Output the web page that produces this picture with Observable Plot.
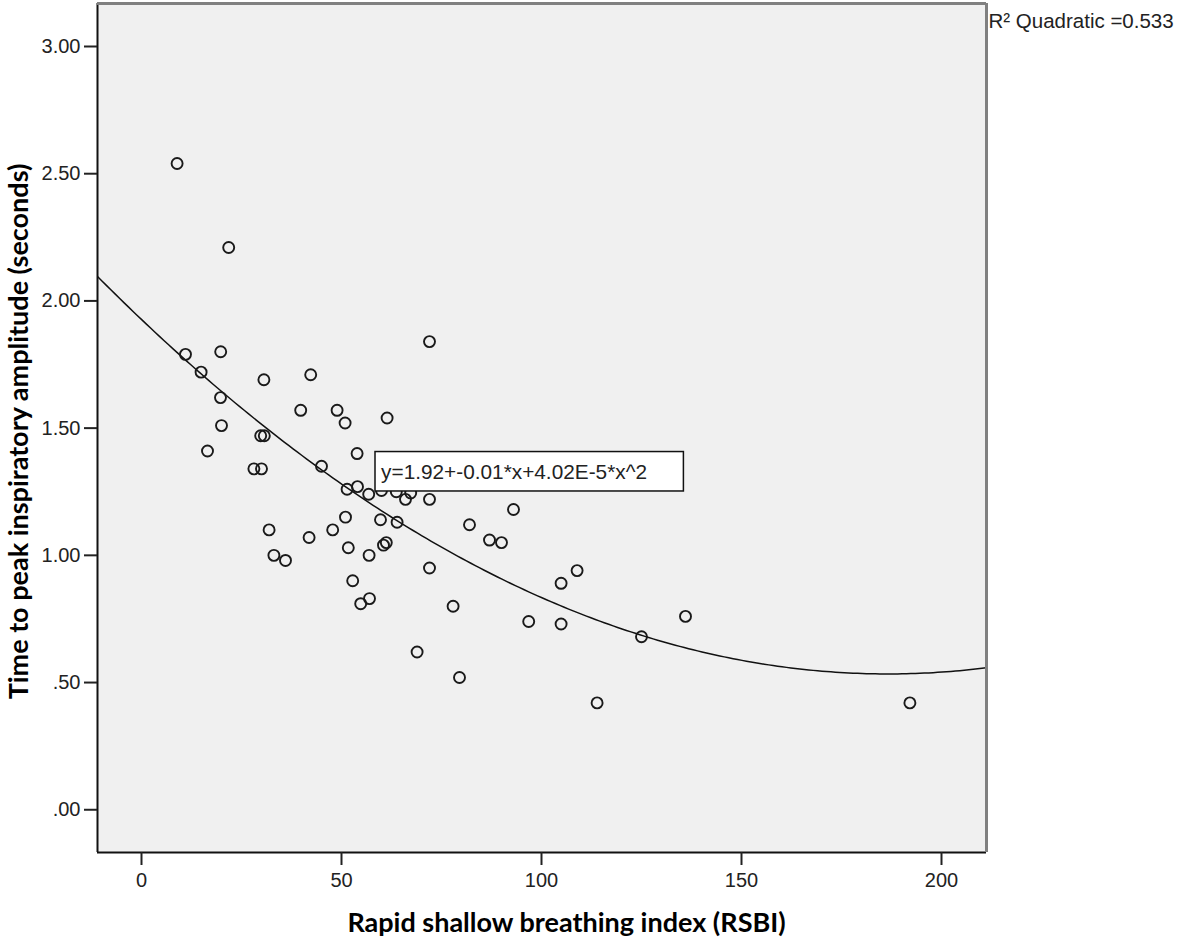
<!DOCTYPE html>
<html><head><meta charset="utf-8">
<script src="https://cdn.jsdelivr.net/npm/d3@7"></script>
<script src="https://cdn.jsdelivr.net/npm/@observablehq/plot@0.6"></script>
<style>body{margin:0;background:#fff}</style>
</head><body><div id="chart"></div>
<script>
// Rapid shallow breathing index (x) and time to peak inspiratory amplitude (y)
const rsbi = [8.9, 21.8, 72, 11, 19.8, 14.9, 30.6, 42.3, 19.75, 39.8,
  48.9, 50.9, 61.4, 20, 29.8, 30.7, 16.5, 53.9, 28.1, 30,
  45, 51.4, 54, 56.8, 60, 63.7, 66, 67.3, 72, 93,
  51, 59.75, 63.9, 82, 87, 90, 31.9, 41.9, 47.8, 51.7,
  60.5, 61.2, 56.9, 33.1, 36, 72, 52.8, 57, 54.8, 77.9,
  96.8, 104.9, 104.9, 108.9, 125, 136, 68.9, 79.5, 113.9, 192.1];
const tpia = [2.54, 2.21, 1.84, 1.79, 1.80, 1.72, 1.69, 1.71, 1.62, 1.57,
  1.57, 1.52, 1.54, 1.51, 1.47, 1.47, 1.41, 1.40, 1.34, 1.34,
  1.35, 1.26, 1.27, 1.24, 1.255, 1.25, 1.22, 1.245, 1.22, 1.18,
  1.15, 1.14, 1.13, 1.12, 1.06, 1.05, 1.10, 1.07, 1.10, 1.03,
  1.04, 1.05, 1.00, 1.00, 0.98, 0.95, 0.90, 0.83, 0.81, 0.80,
  0.74, 0.73, 0.89, 0.94, 0.68, 0.76, 0.62, 0.52, 0.42, 0.42];

const xTicks = [0, 50, 100, 150, 200];
const yTicks = [0, 0.5, 1, 1.5, 2, 2.5, 3];
const xDomain = [-11, 211.25];
const yDomain = [-0.168, 3.169];
// quadratic fit coefficients (a + b*x + c*x^2)
const fitCoef = [1.927, -0.01493, 4.0e-5];
const equationText = "y=1.92+-0.01*x+4.02E-5*x^2";
const r2Text = "R\u00B2 Quadratic =0.533";
const xLabel = "Rapid shallow breathing index (RSBI)";
const yLabel = "Time to peak inspiratory amplitude (seconds)";
const eqBox = {x1: 58.5, x2: 135.6, y1: 1.251, y2: 1.406};
const eqPos = {x: 59.9, y: 1.327};

const points = rsbi.map((x, i) => ({x, y: tpia[i]}));
const curve = d3.range(0, 201).map(i => {
  const x = xDomain[0] + (xDomain[1] - xDomain[0]) * i / 200;
  return {x, y: fitCoef[0] + fitCoef[1] * x + fitCoef[2] * x * x};
});
const fmtY = d => d3.format(".2f")(d).replace(/^0\./, ".");

const chart = Plot.plot({
  width: 1181, height: 939,
  marginLeft: 97, marginRight: 195, marginTop: 3, marginBottom: 87,
  style: {fontFamily: "'Liberation Sans', Arial, sans-serif", background: "#fff", overflow: "visible"},
  x: {domain: xDomain},
  y: {domain: yDomain},
  marks: [
    Plot.frame({fill: "#f0f0f0", stroke: null}),
    Plot.line(curve, {x: "x", y: "y", stroke: "#111", strokeWidth: 1.5, clip: true}),
    Plot.dot(points, {x: "x", y: "y", r: 5.5, stroke: "#1a1a1a", strokeWidth: 1.9, fill: "none"}),
    Plot.rect([eqBox], {x1: "x1", x2: "x2", y1: "y1", y2: "y2", fill: "white", stroke: "#111", strokeWidth: 1.5}),
    Plot.text([eqPos], {x: "x", y: "y", text: () => equationText, textAnchor: "start", lineAnchor: "middle", fontSize: 20.8, fill: "#222"}),
    Plot.ruleX([xDomain[0]], {stroke: "#111", strokeWidth: 2}),
    Plot.ruleY([yDomain[0]], {stroke: "#111", strokeWidth: 2}),
    Plot.ruleX([xDomain[1]], {stroke: "#808080", strokeWidth: 3}),
    Plot.ruleY([yDomain[1]], {stroke: "#808080", strokeWidth: 3}),
    Plot.axisX({ticks: xTicks, tickSize: 13, tickPadding: 7, fontSize: 20, label: null, stroke: "#222", strokeWidth: 2, fill: "#222", tickFormat: d => String(d)}),
    Plot.axisY({ticks: yTicks, tickSize: 13, tickPadding: 4, fontSize: 20, label: null, stroke: "#222", strokeWidth: 2, fill: "#222", tickFormat: fmtY}),
    Plot.text([xLabel], {text: d => d, frameAnchor: "bottom", dx: 24.5, dy: 71, textAnchor: "middle", lineAnchor: "middle", fontSize: 27, fontWeight: "bold", fontFamily: "Lato", fill: "#000"}),
    Plot.text([yLabel], {text: d => d, frameAnchor: "left", rotate: -90, dx: -78, dy: 3.5, textAnchor: "middle", lineAnchor: "middle", fontSize: 27, fontWeight: "bold", fontFamily: "Lato", fill: "#000"}),
    Plot.text([r2Text], {text: d => d, frameAnchor: "top-right", dx: 2, dy: 18, textAnchor: "start", lineAnchor: "middle", fontSize: 20.5, fill: "#222"})
  ]
});
document.getElementById("chart").appendChild(chart);
</script>
</body></html>
